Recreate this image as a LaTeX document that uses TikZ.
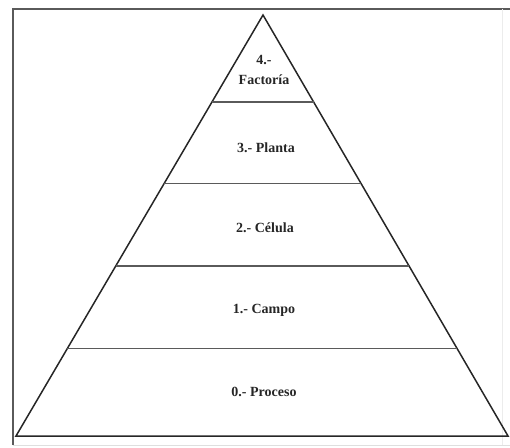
\documentclass[tikz,border=0pt]{standalone}
\usepackage{fontspec}
\setmainfont{Liberation Serif}
\usetikzlibrary{calc}
\definecolor{frame}{HTML}{5A5A5A}

\begin{document}
\begin{tikzpicture}[x=1pt, y=-1pt]
    \useasboundingbox (0,0) rectangle (510,447);

    % Frame
    \draw[frame, line width=1.8pt] (13,445) -- (13,9) -- (510,9);
    \draw[gray!25, line width=0.8pt] (13,445) -- (510,445);
    \draw[gray!15, line width=0.8pt] (502,9) -- (502,445);

    \coordinate (A) at (263,15);
    \coordinate (L) at (16,436);
    \coordinate (R) at (508,436);

    \draw[black!85, line width=1.5pt, line join=miter] (A) -- (L) -- (R) -- cycle;

    % Levels
    \foreach \t [count=\i] in {0.2067,0.401,0.596,0.793}
        \draw[frame, line width=1.2pt] ($(A)!\t!(L)$) coordinate (l\i) -- ($(A)!\t!(R)$) coordinate (r\i);

    % Labels
    \tikzset{level/.style={font=\fontsize{14}{20}\selectfont\bfseries, text=black!85, align=center, inner sep=0pt}}
    \node[level] (factoria) at (264,70) {4.-\\Factoría};
    \node[level] (planta) at (266,148) {3.- Planta};
    \node[level] (celula) at (265,228) {2.- Célula};
    \node[level] (campo) at (264,310) {1.- Campo};
    \node[level] (proceso) at (264,392) {0.- Proceso};
\end{tikzpicture}
\end{document}
